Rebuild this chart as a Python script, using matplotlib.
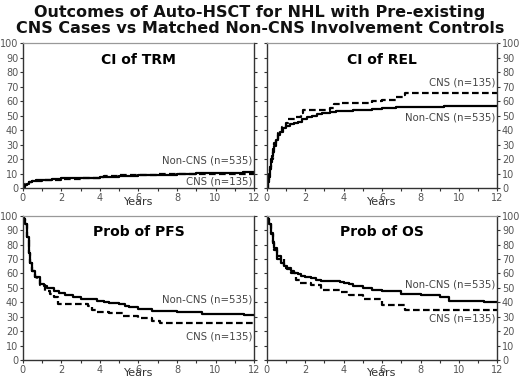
import matplotlib
matplotlib.use('Agg')
from matplotlib import pyplot as plt

# CI of TRM
trm_t_non = [0, 0.05, 0.1, 0.15, 0.2, 0.3, 0.4, 0.5, 0.7, 1, 1.5, 2, 3, 4, 4.5, 5, 6, 7, 8, 9, 10, 11.4, 12]
trm_v_non = [0, 1, 2, 2.5, 3, 4, 4.5, 5, 5.5, 6, 6.3, 6.8, 7.2, 7.5, 8, 8.5, 9, 9.5, 10, 10.2, 10.5, 11.5, 11.5]
trm_t_cns = [0, 0.05, 0.1, 0.2, 0.3, 0.5, 1, 2, 3, 4, 4.2, 5, 6, 7, 8, 9, 10, 12]
trm_v_cns = [0, 1.5, 3, 3.5, 4, 5, 6, 6.5, 7, 7.5, 8.5, 9, 9.3, 9.8, 10, 10, 10, 10]

# CI of REL
rel_t_non = [0, 0.05, 0.1, 0.15, 0.2, 0.25, 0.3, 0.4, 0.5, 0.6, 0.7, 0.85, 1.0, 1.2, 1.4, 1.6, 1.85, 2.1, 2.35, 2.6, 2.9, 3.3, 3.6, 4, 4.5, 5, 5.5, 6, 6.7, 9.2, 12]
rel_v_non = [0, 4, 8, 13, 18, 22, 25, 29, 33, 37, 39, 41.5, 43, 44, 45, 46, 47.5, 49, 50, 51, 52, 52.5, 53, 53.3, 53.8, 54.3, 55, 55.5, 56, 57, 57]
rel_t_cns = [0, 0.05, 0.1, 0.15, 0.2, 0.3, 0.4, 0.5, 0.6, 0.8, 1.0, 1.1, 1.5, 1.8, 1.9, 3.3, 3.5, 3.8, 5.2, 5.5, 6.0, 6.7, 7.1, 7.2, 12]
rel_v_cns = [0, 5, 10, 15, 20, 27, 31, 34, 38, 42, 45, 47.5, 49, 52, 54, 55.2, 58, 59, 59, 60, 61, 63, 64, 65.5, 65.5]

# Prob of PFS
pfs_t_non = [0, 0.05, 0.12, 0.2, 0.3, 0.38, 0.47, 0.64, 0.9, 1.1, 1.25, 1.6, 1.9, 2.2, 2.6, 3.0, 3.3, 3.85, 4.2, 4.5, 5, 5.3, 5.5, 6, 6.7, 7.5, 8, 9, 9.3, 11.5, 12]
pfs_v_non = [100, 98, 94.5, 85.5, 74, 67, 62, 57.5, 53, 51, 50, 48, 46.5, 45, 43.5, 42.5, 42, 41, 40, 39.5, 38.5, 37.5, 36.5, 35.5, 34, 33.8, 33.5, 33, 32, 31.5, 31]
pfs_t_cns = [0, 0.05, 0.12, 0.2, 0.3, 0.38, 0.47, 0.64, 0.73, 0.9, 1.16, 1.4, 1.6, 1.85, 3.4, 3.6, 3.8, 4.5, 5.2, 6, 6.7, 7.1, 12]
pfs_v_cns = [100, 98, 94.5, 85.5, 74, 67, 62, 57.5, 55.5, 52, 47.5, 46, 43.5, 39, 37.5, 34.5, 33.5, 32.3, 30.5, 29, 27, 25.5, 25.5]

# Prob of OS
os_t_non = [0, 0.05, 0.12, 0.2, 0.3, 0.4, 0.55, 0.73, 0.9, 1.07, 1.25, 1.42, 1.6, 1.77, 2.0, 2.3, 2.55, 2.8, 3.5, 3.8, 4, 4.3, 4.5, 4.8, 5, 5.5, 6, 7, 8, 9, 9.5, 11.3, 12]
os_v_non = [100, 98, 94.5, 88, 82, 77.5, 72, 67.5, 65, 63, 61.5, 60.5, 59.5, 58.5, 57.5, 56.5, 55.5, 55, 55, 54.3, 53.5, 52.5, 51.5, 51, 50, 48.8, 47.5, 46, 45, 44, 41, 40.5, 40]
os_t_cns = [0, 0.05, 0.12, 0.2, 0.3, 0.4, 0.55, 0.9, 1.25, 1.5, 1.75, 2.3, 2.8, 3.8, 4.3, 5, 6, 7.2, 12]
os_v_cns = [100, 98, 94, 87, 81, 76, 70, 64, 60, 55.5, 53.5, 52, 48.5, 47, 45, 42, 38, 34.5, 34.5]

panels = [
    ('CI of TRM', trm_t_non, trm_v_non, trm_t_cns, trm_v_cns, 19.5, 4.5),
    ('CI of REL', rel_t_non, rel_v_non, rel_t_cns, rel_v_cns, 49, 73),
    ('Prob of PFS', pfs_t_non, pfs_v_non, pfs_t_cns, pfs_v_cns, 42, 16.5),
    ('Prob of OS', os_t_non, os_v_non, os_t_cns, os_v_cns, 52.5, 29),
]

positions = [
    [0.0437, 0.5084, 0.445, 0.3786],
    [0.513, 0.5084, 0.4435, 0.3786],
    [0.0437, 0.060, 0.445, 0.3768],
    [0.513, 0.060, 0.4435, 0.3768],
]

tick_col = '#555555'

fig = plt.figure(figsize=(5.2, 3.83), dpi=100)
fig.text(0.5, 0.988, 'Outcomes of Auto-HSCT for NHL with Pre-existing\nCNS Cases vs Matched Non-CNS Involvement Controls',
         ha='center', va='top', fontsize=11.5, fontweight='bold', linespacing=1.15, color='#111111')

for i, (title, tn, vn, tc, vc, y_non, y_cns) in enumerate(panels):
    ax = fig.add_axes(positions[i])
    ax.plot(tn, vn, drawstyle='steps-post', color='black', lw=1.6)
    ax.plot(tc, vc, drawstyle='steps-post', color='black', lw=1.6, ls=(0, (3, 1.5)))
    ax.set_xlim(0, 12)
    ax.set_ylim(0, 100)
    ax.set_xticks(range(0, 13, 2))
    ax.set_xticks(range(1, 13, 2), minor=True)
    ax.set_yticks(range(0, 101, 10))
    right = i % 2 == 1
    ax.tick_params(axis='both', which='both', direction='out', length=2.5, width=0.8,
                   colors='#333333', labelcolor=tick_col, labelsize=7, pad=0.8)
    ax.tick_params(axis='y', left=True, right=True, labelleft=not right, labelright=right)
    for s in ['left', 'bottom', 'right']:
        ax.spines[s].set_color('#333333')
        ax.spines[s].set_linewidth(1.0)
    ax.spines['top'].set_color('#999999')
    ax.spines['top'].set_linestyle((0, (1.5, 1)))
    ax.spines['top'].set_linewidth(0.9)
    ax.set_xlabel('Years', fontsize=8, color='#333333', labelpad=-4.5)
    ax.text(6, 88.5, title, ha='center', va='center', fontsize=10, fontweight='bold')
    ax.text(11.9, y_non, 'Non-CNS (n=535)', ha='right', va='center', fontsize=7.3, color='#444444')
    ax.text(11.9, y_cns, 'CNS (n=135)', ha='right', va='center', fontsize=7.3, color='#444444')

plt.savefig('out.png', dpi=100)
